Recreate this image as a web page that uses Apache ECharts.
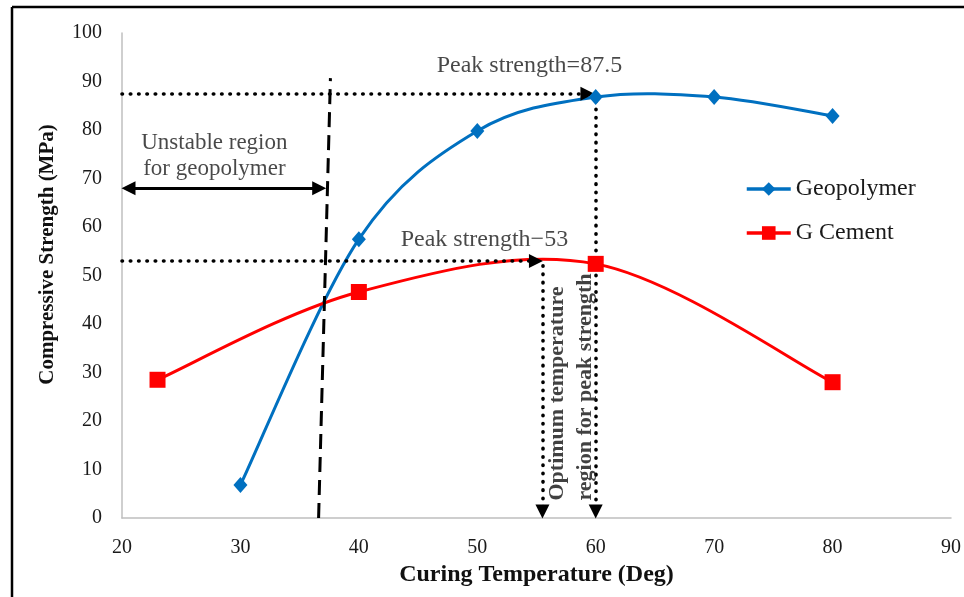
<!DOCTYPE html>
<html><head><meta charset="utf-8">
<script src="https://cdn.jsdelivr.net/npm/echarts@6/dist/echarts.min.js"></script>
<style>html,body{margin:0;padding:0;background:#fff}#c{width:964px;height:597px}</style>
</head><body><div id="c"></div>
<script>
const geoTemp = [30, 40, 50, 60, 70, 80];
const geoValues = [6.8, 57.5, 79.8, 86.8, 86.8, 82.9];
const cemTemp = [23, 40, 60, 80];
const cemValues = [28.5, 46.6, 52.4, 28.0];
const xTicks = {min: 20, max: 90, interval: 10};
const yTicks = {min: 0, max: 100, interval: 10};
// annotation lines in data coordinates (arrow ends placed at arrow-head centres)
const peakGeo = [[20, 87.5], [59.3, 87.5]];
const peakCem = [[20, 53], [54.95, 53]];
const optLeft = [[55.5, 52], [55.5, 1.35]];
const optRight = [[60, 86], [60, 1.35]];
const unstableBound = [[36.6, 0], [37.6, 90.7]];
const unstableArrow = [[20.55, 68], [36.65, 68]];
const textPeakGeo = [[54.4, 93.2, 'Peak strength=87.5']];
const textPeakCem = [[50.6, 57.3, 'Peak strength\u221253']];
const textUnstable = [[27.8, 74.6, 'Unstable region\nfor geopolymer']];
const textOptimum = [[57.9, 3.6, 'Optimum temperature\nregion for peak strength']];

const serif = 'Liberation Serif';
const chart = echarts.init(document.getElementById('c'));
const zip = (a, b) => a.map((v, i) => [v, b[i]]);
const dotted = [0.5, 7.8];
const ml = (pts, type, sym, z) => ({
  type: 'line', data: [], z: z || 3, silent: true,
  markLine: {
    silent: true, animation: false, symbol: sym, symbolSize: [14, 14],
    label: {show: false},
    lineStyle: {color: '#000', width: type === dotted ? 3.6 : 3, type: type,
      cap: type === dotted ? 'round' : 'butt'},
    data: [[{coord: pts[0]}, {coord: pts[1]}]]
  }
});
const txt = (d, opts) => ({
  type: 'scatter', data: d, symbolSize: 0, silent: true, z: 6,
  label: Object.assign({show: true, position: 'inside', formatter: p => p.data[2],
    fontFamily: serif, fontSize: 23, color: '#1a1a1a', lineHeight: 26}, opts || {})
});
// smooth curve (Excel-like Catmull-Rom bezier) drawn through the data via the axes
const curve = (xs, ys, color) => ({
  type: 'custom', data: zip(xs, ys), z: 4, silent: true,
  renderItem: (params, api) => {
    const i = params.dataIndex, n = xs.length;
    if (i >= n - 1) return null;
    const P = k => api.coord([xs[Math.max(0, Math.min(n - 1, k))], ys[Math.max(0, Math.min(n - 1, k))]]);
    const p0 = P(i - 1), p1 = P(i), p2 = P(i + 1), p3 = P(i + 2);
    return {
      type: 'bezierCurve',
      shape: {
        x1: p1[0], y1: p1[1], x2: p2[0], y2: p2[1],
        cpx1: p1[0] + (p2[0] - p0[0]) / 6, cpy1: p1[1] + (p2[1] - p0[1]) / 6,
        cpx2: p2[0] - (p3[0] - p1[0]) / 6, cpy2: p2[1] - (p3[1] - p1[1]) / 6
      },
      style: {stroke: color, lineWidth: 3, fill: 'none'}
    };
  }
});

chart.setOption({
  animation: false,
  backgroundColor: '#fff',
  grid: {left: 122, right: 11, top: 33, bottom: 79},
  xAxis: {
    type: 'value', min: xTicks.min, max: xTicks.max, interval: xTicks.interval,
    name: 'Curing Temperature (Deg)', nameLocation: 'middle', nameGap: 44,
    nameTextStyle: {fontFamily: serif, fontSize: 24, fontWeight: 'bold', color: '#111'},
    axisLine: {lineStyle: {color: '#bfbfbf', width: 1.5}},
    axisTick: {show: false},
    axisLabel: {fontFamily: serif, fontSize: 20, color: '#1a1a1a', margin: 20},
    splitLine: {show: false}
  },
  yAxis: {
    type: 'value', min: yTicks.min, max: yTicks.max, interval: yTicks.interval,
    name: 'Compressive Strength (MPa)', nameLocation: 'middle', nameGap: 64,
    nameTextStyle: {fontFamily: serif, fontSize: 21, fontWeight: 'bold', color: '#111',
      padding: [0, 0, 0, 42]},
    axisLine: {show: true, lineStyle: {color: '#bfbfbf', width: 1.5}},
    axisTick: {show: false},
    axisLabel: {fontFamily: serif, fontSize: 20, color: '#1a1a1a', margin: 20},
    splitLine: {show: false}
  },
  legend: {
    orient: 'vertical', left: 740, top: 172, itemGap: 20, itemWidth: 44, itemHeight: 17,
    textStyle: {fontFamily: serif, fontSize: 24, color: '#1a1a1a'},
    lineStyle: {opacity: 1, width: 3.5},
    data: ['Geopolymer', 'G Cement']
  },
  graphic: [
    {type: 'line', shape: {x1: 12, y1: 7, x2: 964, y2: 7}, style: {stroke: '#000', lineWidth: 2.5}},
    {type: 'line', shape: {x1: 12, y1: 7, x2: 12, y2: 597}, style: {stroke: '#000', lineWidth: 2.5}}
  ],
  series: [
    ml(peakGeo, dotted, ['none', 'triangle']),
    ml(peakCem, dotted, ['none', 'triangle']),
    ml(optLeft, dotted, ['none', 'triangle']),
    ml(optRight, dotted, ['none', 'triangle']),
    ml(unstableBound, [15, 8], ['none', 'none']),
    ml(unstableArrow, 'solid', ['triangle', 'triangle']),
    curve(geoTemp, geoValues, '#0070c0'),
    curve(cemTemp, cemValues, '#ff0000'),
    {
      name: 'Geopolymer', type: 'line', data: zip(geoTemp, geoValues), z: 5,
      symbol: 'diamond', symbolSize: [14, 16],
      lineStyle: {color: '#0070c0', width: 3, opacity: 0}, itemStyle: {color: '#0070c0'}
    },
    {
      name: 'G Cement', type: 'line', data: zip(cemTemp, cemValues), z: 5,
      symbol: 'rect', symbolSize: 16,
      lineStyle: {color: '#ff0000', width: 3, opacity: 0}, itemStyle: {color: '#ff0000'}
    },
    txt(textPeakGeo, {fontSize: 24}),
    txt(textPeakCem, {fontSize: 24}),
    txt(textUnstable),
    txt(textOptimum, {rotate: 90, fontSize: 22, fontWeight: 'bold', lineHeight: 28, align: 'left', color: '#111'})
  ]
});
</script></body></html>
